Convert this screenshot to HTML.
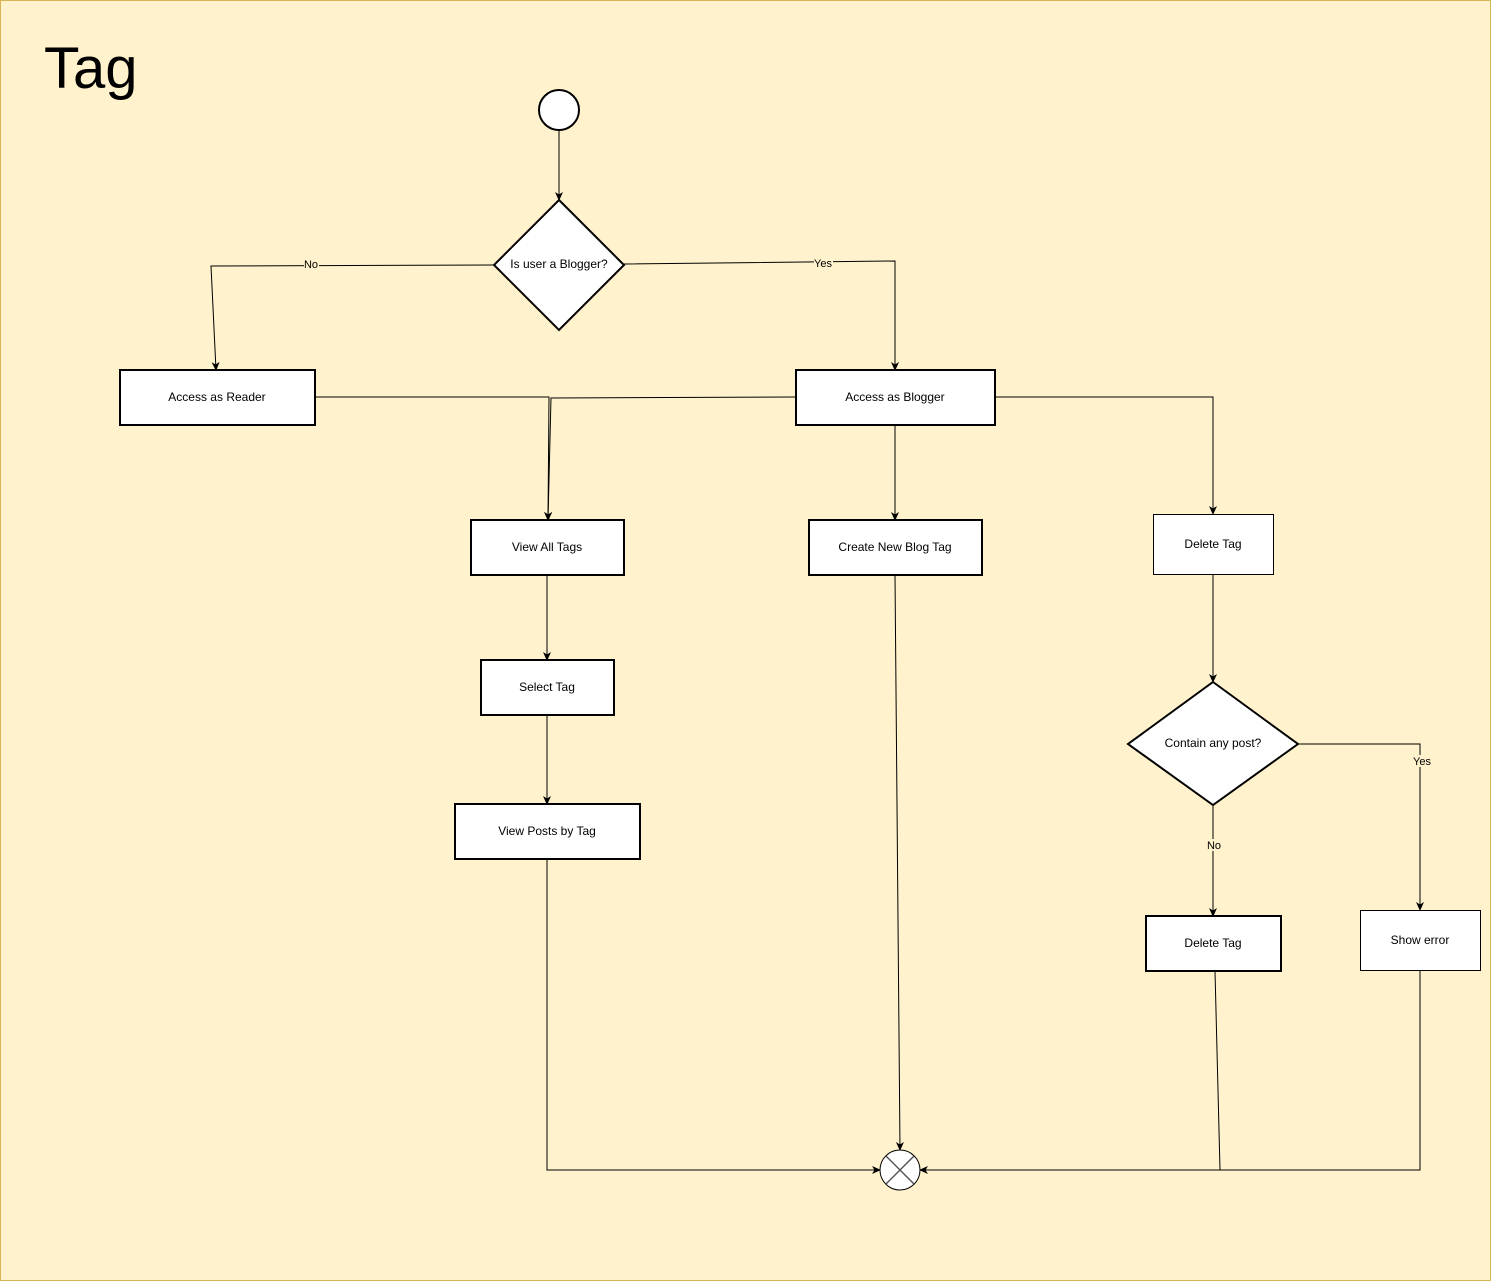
<!DOCTYPE html>
<html><head><meta charset="utf-8"><style>
html,body{margin:0;padding:0;background:#fff2cc;}
svg{display:block;}
text{font-family:"Liberation Sans",Arial,sans-serif;}
</style></head><body>
<svg width="1491" height="1281" viewBox="0 0 1491 1281" xmlns="http://www.w3.org/2000/svg">
<defs>
<marker id="a" markerWidth="10" markerHeight="10" refX="8" refY="5" orient="auto" markerUnits="userSpaceOnUse">
<path d="M0,1 L9,5 L0,9 L2.5,5 Z" fill="#000"/></marker>
</defs>
<rect x="0.5" y="0.5" width="1490" height="1280" fill="#fff2cc" stroke="#d6b656"/>
<text x="44" y="88" font-size="58">Tag</text>
<g fill="none" stroke="#000" stroke-width="1">
<line x1="559" y1="130" x2="559" y2="200" marker-end="url(#a)"/>
<polyline points="494,265 211,266 216,370" marker-end="url(#a)"/>
<polyline points="624,264 895,261 895,370" marker-end="url(#a)"/>
<polyline points="315,397 549,397 548,520" marker-end="url(#a)"/>
<polyline points="796,397 551,398 548,520" marker-end="url(#a)"/>
<line x1="895" y1="425" x2="895" y2="520" marker-end="url(#a)"/>
<polyline points="995,397 1213,397 1213,514" marker-end="url(#a)"/>
<line x1="547" y1="575" x2="547" y2="660" marker-end="url(#a)"/>
<line x1="547" y1="715" x2="547" y2="804" marker-end="url(#a)"/>
<polyline points="547,859 547,1170 880,1170" marker-end="url(#a)"/>
<line x1="895" y1="575" x2="900" y2="1150" marker-end="url(#a)"/>
<line x1="1213" y1="575" x2="1213" y2="682" marker-end="url(#a)"/>
<line x1="1213" y1="805" x2="1213" y2="916" marker-end="url(#a)"/>
<polyline points="1298,744 1420,744 1420,910" marker-end="url(#a)"/>
<polyline points="1215,971 1220,1170 920,1170" marker-end="url(#a)"/>
<polyline points="1420,971 1420,1170 1220,1170"/>
</g>
<g stroke="#000" fill="#fff">
<circle cx="559" cy="110" r="20" stroke-width="2"/>
<polygon points="559,200 624,265 559,330 494,265" stroke-width="2"/>
<rect x="120" y="370" width="195" height="55" stroke-width="2"/>
<rect x="796" y="370" width="199" height="55" stroke-width="2"/>
<rect x="471" y="520" width="153" height="55" stroke-width="2"/>
<rect x="809" y="520" width="173" height="55" stroke-width="2"/>
<rect x="1153.5" y="514.5" width="120" height="60" stroke-width="1"/>
<rect x="481" y="660" width="133" height="55" stroke-width="2"/>
<rect x="455" y="804" width="185" height="55" stroke-width="2"/>
<polygon points="1213,682 1298,744 1213,805 1128,744" stroke-width="2"/>
<rect x="1146" y="916" width="135" height="55" stroke-width="2"/>
<rect x="1360.5" y="910.5" width="120" height="60" stroke-width="1"/>
<circle cx="900" cy="1170" r="20" stroke-width="1"/>
</g>
<g stroke="#555" stroke-width="1.5">
<line x1="886" y1="1156" x2="914" y2="1184"/>
<line x1="914" y1="1156" x2="886" y2="1184"/>
</g>
<g font-size="12" text-anchor="middle" fill="#000">
<text x="559" y="268">Is user a Blogger?</text>
<text x="217" y="401">Access as Reader</text>
<text x="895" y="401">Access as Blogger</text>
<text x="547" y="551">View All Tags</text>
<text x="895" y="551">Create New Blog Tag</text>
<text x="1213" y="548">Delete Tag</text>
<text x="547" y="691">Select Tag</text>
<text x="547" y="835">View Posts by Tag</text>
<text x="1213" y="747">Contain any post?</text>
<text x="1213" y="947">Delete Tag</text>
<text x="1420" y="944">Show error</text>
</g>
<g font-size="11" text-anchor="middle">
<rect x="304" y="259" width="15" height="12" fill="#fff2cc"/>
<text x="311" y="268">No</text>
<rect x="814" y="257" width="19" height="12" fill="#fff2cc"/>
<text x="823" y="267">Yes</text>
<rect x="1206" y="839" width="16" height="12" fill="#fff2cc"/>
<text x="1214" y="849">No</text>
<rect x="1412" y="755" width="20" height="12" fill="#fff2cc"/>
<text x="1422" y="765">Yes</text>
</g>
</svg>
</body></html>
